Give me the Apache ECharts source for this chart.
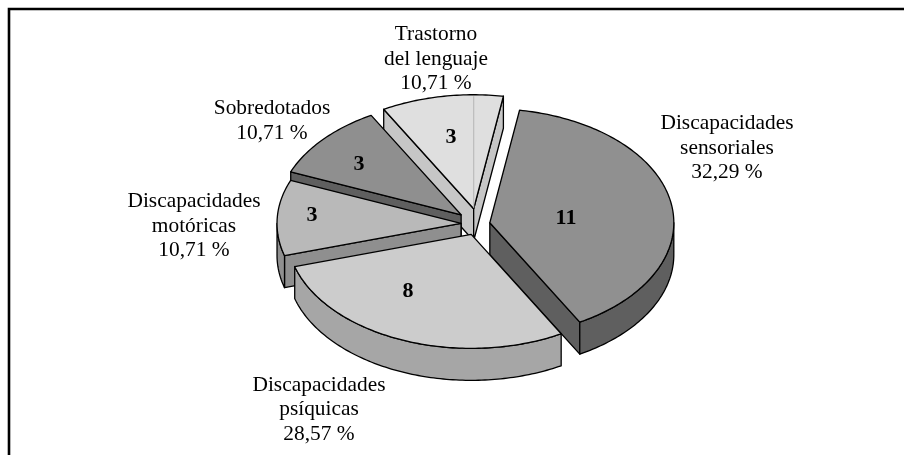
<!DOCTYPE html>
<html>
<head>
<meta charset="utf-8">
<style>
  html, body { margin: 0; padding: 0; background: #fff; }
  #main { width: 904px; height: 455px; }
</style>
<script src="https://cdn.jsdelivr.net/npm/echarts@6/dist/echarts.min.js"></script>
</head>
<body>
<div id="main"></div>
<script>
// data, clockwise from the first slice
var names = ['Discapacidades\nsensoriales', 'Discapacidades\npsíquicas', 'Discapacidades\nmotóricas', 'Sobredotados', 'Trastorno\ndel lenguaje'];
var values = [11, 8, 3, 3, 3];
var percents = ['32,29 %', '28,57 %', '10,71 %', '10,71 %', '10,71 %'];

// look of each slice, same order as above
var topColors = ['#909090', '#cccccc', '#b9b9b9', '#8f8f8f', '#dfdfdf'];
var wallColors = ['#5f5f5f', '#a6a6a6', '#8f8f8f', '#5f5f5f', '#c6c6c6'];
var explode = [12, 18, 17, 22.5, 25];
var nameAnchors = [[727, 148], [319, 409.5], [194, 226], [272, 121], [436, 59]];
var valueAnchors = [[566, 218], [408, 291], [312, 215], [359, 164], [451, 137]];
var drawOrder = [4, 3, 2, 0, 1];

// the tilted pie
var cx = 478, cy = 224, rx = 184, ry = 114, depth = 32;
var firstAngle = 9.3;
var serif = '"Liberation Serif", "Times New Roman", serif';

var total = values.reduce(function (a, b) { return a + b; }, 0);
var slices = [];
var acc = firstAngle;
values.forEach(function (v, i) {
  var sweep = v / total * 360;
  var mid = (acc + sweep / 2) * Math.PI / 180;
  slices.push({
    start: acc,
    end: acc + sweep,
    ox: cx + explode[i] * Math.sin(mid),
    oy: cy - explode[i] * Math.cos(mid) * ry / rx
  });
  acc += sweep;
});

function rim(s, deg, dy) {
  var a = deg * Math.PI / 180;
  return [s.ox + rx * Math.sin(a), s.oy - ry * Math.cos(a) + (dy || 0)];
}

function arc(s, from, to, dy) {
  var pts = [];
  for (var d = from; d < to; d += 1) pts.push(rim(s, d, dy));
  pts.push(rim(s, to, dy));
  return pts;
}

function poly(points, fill) {
  return {
    type: 'polygon',
    shape: { points: points },
    style: { fill: fill, stroke: '#000', lineWidth: 1.3, lineJoin: 'round' }
  };
}

function edgeWall(s, deg, fill) {
  var a = rim(s, deg);
  var b = rim(s, deg, depth);
  return poly([[s.ox, s.oy], a, b, [s.ox, s.oy + depth]], fill);
}

function renderSlice(params, api) {
  var i = api.value(0);
  var s = slices[i];
  var children = [];
  // only the cut faces turned towards the viewer
  if (Math.sin(s.start * Math.PI / 180) < 0) children.push(edgeWall(s, s.start, wallColors[i]));
  if (Math.sin(s.end * Math.PI / 180) > 0) children.push(edgeWall(s, s.end, wallColors[i]));
  var from = Math.max(s.start, 90), to = Math.min(s.end, 270);
  if (from < to) {
    children.push(poly(arc(s, from, to, 0).concat(arc(s, from, to, depth).reverse()), wallColors[i]));
  }
  children.push(poly([[s.ox, s.oy]].concat(arc(s, s.start, s.end, 0)), topColors[i]));
  // seam where a slice passes over the top of the circle
  if (s.start < 360 && s.end > 360) {
    var p = rim(s, 360);
    children.push({
      type: 'line',
      shape: { x1: s.ox, y1: s.oy - 1, x2: p[0], y2: p[1] + 1.5 },
      style: { stroke: '#bcbcbc', lineWidth: 1.2 }
    });
  }
  return { type: 'group', children: children };
}

var texts = [];
names.forEach(function (n, i) {
  texts.push({
    type: 'text', x: nameAnchors[i][0], y: nameAnchors[i][1], z: 10,
    style: {
      text: n + '\n' + percents[i], fill: '#000', align: 'center', verticalAlign: 'middle',
      font: '21.4px ' + serif, lineHeight: 24.5
    }
  });
  texts.push({
    type: 'text', x: valueAnchors[i][0], y: valueAnchors[i][1], z: 10,
    style: {
      text: String(values[i]), fill: '#000', align: 'center', verticalAlign: 'middle',
      font: 'bold 22px ' + serif
    }
  });
});

// frame only on the top and left, it runs off the picture
texts.push({
  type: 'polyline', z: 10,
  shape: { points: [[904, 9], [9, 9], [9, 455]] },
  style: { stroke: '#000', lineWidth: 2.6, fill: null }
});

var chart = echarts.init(document.getElementById('main'), null, { renderer: 'canvas' });
chart.setOption({
  animation: false,
  backgroundColor: '#fff',
  graphic: { elements: texts },
  series: [{
    type: 'custom',
    coordinateSystem: 'none',
    silent: true,
    renderItem: renderSlice,
    data: drawOrder.map(function (i) { return [i, values[i]]; })
  }]
});
window.addEventListener('resize', function () { chart.resize(); });
</script>
</body>
</html>
